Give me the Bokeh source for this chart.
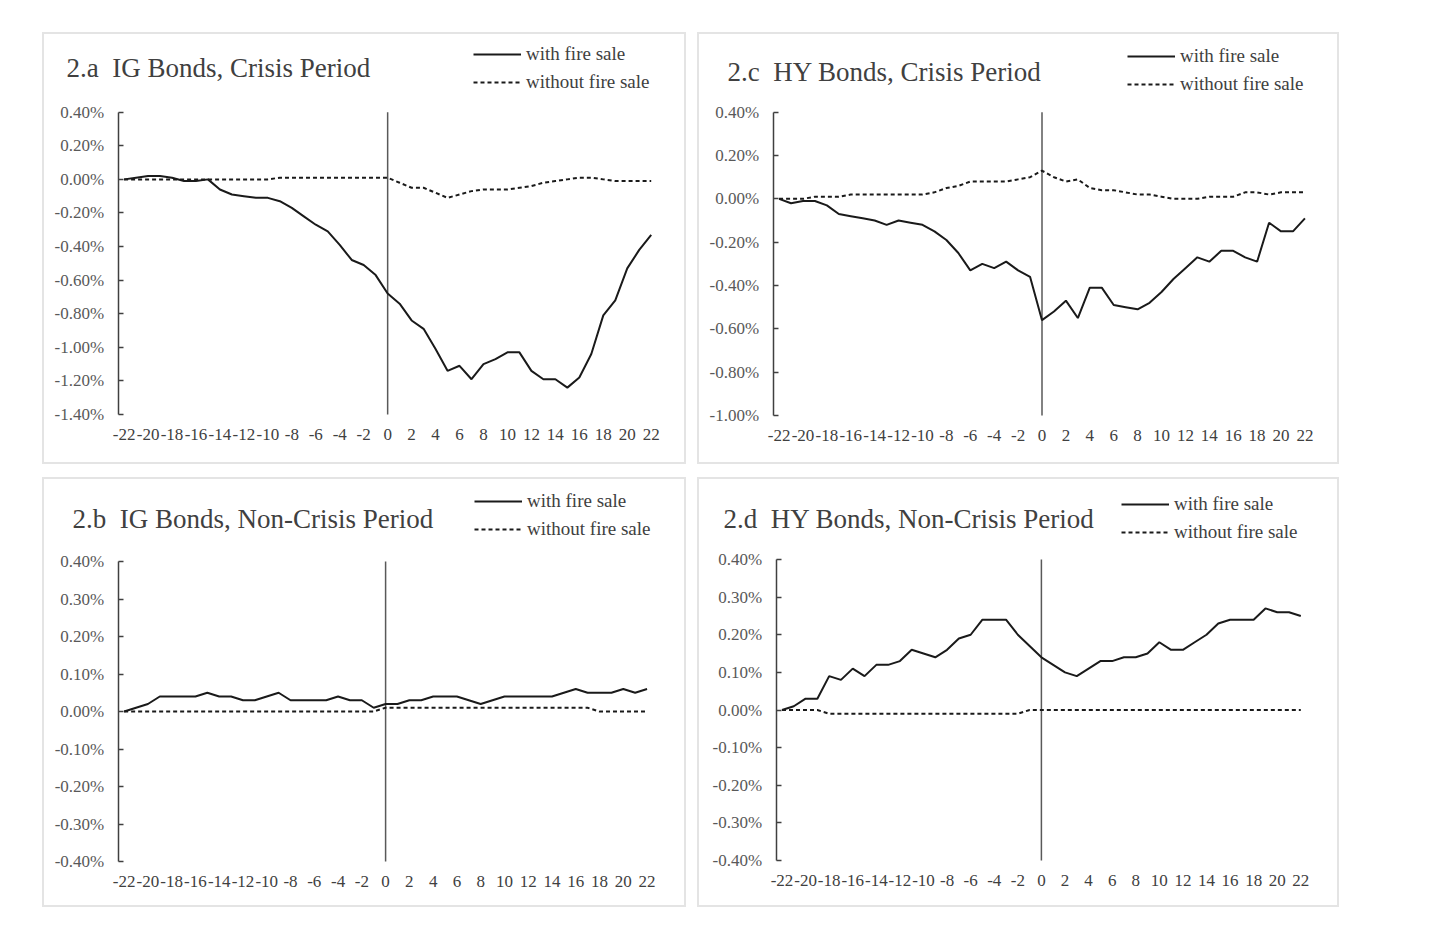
from bokeh.plotting import figure
from bokeh.models import FixedTicker, PrintfTickFormatter, Legend, LegendItem, Label
from bokeh.layouts import column, row
from bokeh.embed import file_html
from bokeh.resources import INLINE

# ---------------- data ----------------
days = list(range(-22, 23))
x_ticks = list(range(-22, 23, 2))
event_day = 0

ig_crisis_fire = [0.00, 0.01, 0.02, 0.02, 0.01, -0.01, -0.01, 0.00, -0.06, -0.09,
                  -0.10, -0.11, -0.11, -0.13, -0.17, -0.22, -0.27, -0.31, -0.39, -0.48,
                  -0.51, -0.57, -0.68, -0.74, -0.84, -0.89, -1.01, -1.14, -1.11, -1.19,
                  -1.10, -1.07, -1.03, -1.03, -1.14, -1.19, -1.19, -1.24, -1.18, -1.04,
                  -0.81, -0.72, -0.53, -0.42, -0.33]
ig_crisis_nofire = [0.00, 0.00, 0.00, 0.00, 0.00, 0.00, 0.00, 0.00, 0.00, 0.00,
                    0.00, 0.00, 0.00, 0.01, 0.01, 0.01, 0.01, 0.01, 0.01, 0.01,
                    0.01, 0.01, 0.01, -0.02, -0.05, -0.05, -0.08, -0.11, -0.09, -0.07,
                    -0.06, -0.06, -0.06, -0.05, -0.04, -0.02, -0.01, 0.00, 0.01, 0.01,
                    0.00, -0.01, -0.01, -0.01, -0.01]

hy_crisis_fire = [0.00, -0.02, -0.01, -0.01, -0.03, -0.07, -0.08, -0.09, -0.10, -0.12,
                  -0.10, -0.11, -0.12, -0.15, -0.19, -0.25, -0.33, -0.30, -0.32, -0.29,
                  -0.33, -0.36, -0.56, -0.52, -0.47, -0.55, -0.41, -0.41, -0.49, -0.50,
                  -0.51, -0.48, -0.43, -0.37, -0.32, -0.27, -0.29, -0.24, -0.24, -0.27,
                  -0.29, -0.11, -0.15, -0.15, -0.09]
hy_crisis_nofire = [0.00, 0.00, 0.00, 0.01, 0.01, 0.01, 0.02, 0.02, 0.02, 0.02,
                    0.02, 0.02, 0.02, 0.03, 0.05, 0.06, 0.08, 0.08, 0.08, 0.08,
                    0.09, 0.10, 0.13, 0.10, 0.08, 0.09, 0.05, 0.04, 0.04, 0.03,
                    0.02, 0.02, 0.01, 0.00, 0.00, 0.00, 0.01, 0.01, 0.01, 0.03,
                    0.03, 0.02, 0.03, 0.03, 0.03]

ig_normal_fire = [0.00, 0.01, 0.02, 0.04, 0.04, 0.04, 0.04, 0.05, 0.04, 0.04,
                  0.03, 0.03, 0.04, 0.05, 0.03, 0.03, 0.03, 0.03, 0.04, 0.03,
                  0.03, 0.01, 0.02, 0.02, 0.03, 0.03, 0.04, 0.04, 0.04, 0.03,
                  0.02, 0.03, 0.04, 0.04, 0.04, 0.04, 0.04, 0.05, 0.06, 0.05,
                  0.05, 0.05, 0.06, 0.05, 0.06]
ig_normal_nofire = [0.00, 0.00, 0.00, 0.00, 0.00, 0.00, 0.00, 0.00, 0.00, 0.00,
                    0.00, 0.00, 0.00, 0.00, 0.00, 0.00, 0.00, 0.00, 0.00, 0.00,
                    0.00, 0.00, 0.01, 0.01, 0.01, 0.01, 0.01, 0.01, 0.01, 0.01,
                    0.01, 0.01, 0.01, 0.01, 0.01, 0.01, 0.01, 0.01, 0.01, 0.01,
                    0.00, 0.00, 0.00, 0.00, 0.00]

hy_normal_fire = [0.00, 0.01, 0.03, 0.03, 0.09, 0.08, 0.11, 0.09, 0.12, 0.12,
                  0.13, 0.16, 0.15, 0.14, 0.16, 0.19, 0.20, 0.24, 0.24, 0.24,
                  0.20, 0.17, 0.14, 0.12, 0.10, 0.09, 0.11, 0.13, 0.13, 0.14,
                  0.14, 0.15, 0.18, 0.16, 0.16, 0.18, 0.20, 0.23, 0.24, 0.24,
                  0.24, 0.27, 0.26, 0.26, 0.25]
hy_normal_nofire = [0.00, 0.00, 0.00, 0.00, -0.01, -0.01, -0.01, -0.01, -0.01, -0.01,
                    -0.01, -0.01, -0.01, -0.01, -0.01, -0.01, -0.01, -0.01, -0.01, -0.01,
                    -0.01, 0.00, 0.00, 0.00, 0.00, 0.00, 0.00, 0.00, 0.00, 0.00,
                    0.00, 0.00, 0.00, 0.00, 0.00, 0.00, 0.00, 0.00, 0.00, 0.00,
                    0.00, 0.00, 0.00, 0.00, 0.00]

ticks_crisis_ig = [-1.4, -1.2, -1.0, -0.8, -0.6, -0.4, -0.2, 0.0, 0.2, 0.4]
ticks_crisis_hy = [-1.0, -0.8, -0.6, -0.4, -0.2, 0.0, 0.2, 0.4]
ticks_normal = [-0.4, -0.3, -0.2, -0.1, 0.0, 0.1, 0.2, 0.3, 0.4]

legend_labels = ["with fire sale", "without fire sale"]

SERIF = "Liberation Serif"
TEXT = "#404040"
INK = "#1a1a1a"
X0, X1 = -22.5, 22.5
BW = 2                      # css border width
FL, FR, FT, FB = 6, 6, 6, 6  # frame margins inside the panel box
NB = "\u00a0"


def make_panel(title, fire, nofire, y0, y1, yticks, w, h, box, dbox, title_xy, leg_xy):
    """box: page position of panel box; dbox: page pixels of the data box
    (x at -22.5, x at 22.5, y at top value, y at bottom value)."""
    bx, by = box
    xl, xr, yt, yb = dbox
    ox, oy = bx + BW, by + BW
    sx = (xr - xl) / (X1 - X0)
    sy = (yb - yt) / (y1 - y0)
    x_start = X0 - ((xl - ox) - FL) / sx
    x_end = X1 + ((w - FR) - (xr - ox)) / sx
    y_end = y1 + ((yt - oy) - FT) / sy
    y_start = y0 - ((h - FB) - (yb - oy)) / sy

    p = figure(width=w, height=h, x_range=(x_start, x_end), y_range=(y_start, y_end),
               output_backend="svg", toolbar_location=None,
               min_border_left=FL, min_border_right=FR,
               min_border_top=FT, min_border_bottom=FB)
    p.xgrid.visible = False
    p.ygrid.visible = False
    p.outline_line_color = None
    p.styles = {"border": "2px solid #e4e4e4"}

    xa = p.xaxis[0]
    xa.fixed_location = y0
    xa.ticker = FixedTicker(ticks=x_ticks)
    xa.formatter = PrintfTickFormatter(format="%d")
    xa.axis_line_color = None
    xa.major_tick_line_color = None
    xa.minor_tick_line_color = None
    xa.major_label_text_font = SERIF
    xa.major_label_text_font_size = "17px"
    xa.major_label_text_color = TEXT
    xa.major_label_standoff = 8

    ya = p.yaxis[0]
    ya.fixed_location = X0
    ya.bounds = (y0, y1)
    ya.ticker = FixedTicker(ticks=yticks)
    ya.formatter = PrintfTickFormatter(format="%.2f%%")
    ya.axis_line_color = "#404040"
    ya.axis_line_width = 1.5
    ya.major_tick_line_color = "#404040"
    ya.major_tick_line_width = 1.5
    ya.major_tick_in = 5
    ya.major_tick_out = 0
    ya.minor_tick_line_color = None
    ya.major_label_text_font = SERIF
    ya.major_label_text_font_size = "17px"
    ya.major_label_text_color = "#595959"
    ya.major_label_standoff = 14

    # event-day vertical line
    p.segment(x0=[event_day], y0=[y0], x1=[event_day], y1=[y1],
              line_color="#595959", line_width=1.5)

    r1 = p.line(days, fire, line_color=INK, line_width=2)
    r2 = p.line(days, nofire, line_color=INK, line_width=2, line_dash="4 3")

    fx0 = ox + FL
    fy0 = oy + h - FB
    legend = Legend(items=[LegendItem(label=legend_labels[0], renderers=[r1]),
                           LegendItem(label=legend_labels[1], renderers=[r2])],
                    location=(leg_xy[0] - fx0, fy0 - leg_xy[1]),
                    glyph_width=48, glyph_height=20,
                    label_height=20, spacing=6, padding=0, margin=0,
                    border_line_color=None, background_fill_alpha=0,
                    label_text_font=SERIF, label_text_font_size="19px",
                    label_text_color=TEXT, label_standoff=5)
    p.add_layout(legend)

    p.add_layout(Label(x=title_xy[0] - fx0, y=fy0 - title_xy[1],
                       x_units="screen", y_units="screen",
                       text=title, text_font=SERIF, text_font_size="27px",
                       text_color=TEXT, text_baseline="middle", text_align="left"))
    return p


p1 = make_panel("2.a" + NB + NB + "IG Bonds, Crisis Period", ig_crisis_fire, ig_crisis_nofire,
                -1.4, 0.4, ticks_crisis_ig, 644, 432, (43, 32),
                (118.6, 657.7, 111.7, 414.0), (67, 67.5), (474, 93.0))
p3 = make_panel("2.c" + NB + NB + "HY Bonds, Crisis Period", hy_crisis_fire, hy_crisis_nofire,
                -1.0, 0.4, ticks_crisis_hy, 642, 432, (698, 32),
                (773.6, 1311.4, 111.7, 415.0), (728, 71.7), (1128, 95.0))
p2 = make_panel("2.b" + NB + NB + "IG Bonds, Non-Crisis Period", ig_normal_fire, ig_normal_nofire,
                -0.4, 0.4, ticks_normal, 644, 430, (43, 477),
                (118.7, 653.5, 561.0, 861.0), (73, 518.3), (475, 539.5))
p4 = make_panel("2.d" + NB + NB + "HY Bonds, Non-Crisis Period", hy_normal_fire, hy_normal_nofire,
                -0.4, 0.4, ticks_normal, 642, 430, (698, 477),
                (776.6, 1307.2, 559.0, 860.0), (724, 518.3), (1122, 543.0))

layout = column(row(p1, p3, spacing=11), row(p2, p4, spacing=11), spacing=13,
                margin=(32, 0, 0, 42))

open("out.html", "w").write(file_html(layout, INLINE))
